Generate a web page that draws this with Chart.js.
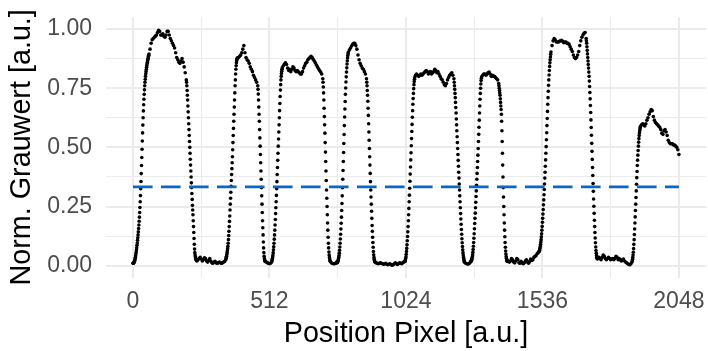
<!DOCTYPE html>
<html>
<head>
<meta charset="utf-8">
<script src="https://cdn.jsdelivr.net/npm/chart.js@4.4.1/dist/chart.umd.min.js"></script>
<style>
  html, body { margin: 0; padding: 0; background: #fff; }
</style>
</head>
<body>
<canvas id="grauwertChart" width="708" height="351"></canvas>
<script>
// Achsen
const xTicks = [0, 512, 1024, 1536, 2048];
const yTicks = [0, 0.25, 0.5, 0.75, 1];
const schwelle = 0.333;

// Grauwert-Profil: [Startpixel, Schrittweite, Werte]
// (Flanken pixelweise, Plateaus jedes 4. Pixel)
const profilRuns = [
  [0, 1, [0.010,0.010,0.011,0.012,0.014,0.017,0.020,0.024,0.029,0.035,
          0.042,0.050,0.058,0.067,0.076,0.086,0.096,0.107,0.118,0.130,
          0.143,0.157,0.172,0.188,0.205,0.225,0.246,0.270,0.296,0.325,
          0.356,0.389,0.423,0.457,0.492,0.527,0.561,0.594,0.625,0.654,
          0.680,0.703,0.724,0.743,0.760,0.775,0.788,0.800,0.811,0.821,
          0.830,0.838,0.846,0.853,0.860,0.866,0.872,0.878,0.884,0.889,0.894]],
  [64, 4, [0.915,0.94,0.955,0.96,0.965,0.97,0.975,0.985,0.995,0.99,0.975,0.975,0.98,0.97,0.965,0.975,
           0.99,0.99,0.975,0.96,0.95,0.94,0.93,0.92,0.9,0.88,0.87,0.86,0.855,0.865,0.875,0.86,0.84,0.815,0.785]],
  [201, 1, [0.775,0.76,0.74,0.72,0.70,0.675,0.65,0.625,0.60,0.575,
            0.55,0.525,0.50,0.475,0.45,0.425,0.40,0.375,0.35,0.33,
            0.305,0.28,0.255,0.235,0.215,0.19,0.165,0.14,0.115,0.09,
            0.07,0.055,0.045,0.038,0.032,0.028,0.025,0.023,0.022,0.02]],
  [244, 4, [0.025,0.03,0.035,0.028,0.02,0.025,0.033,0.03,0.02,0.015,0.022,0.03,0.02,0.012,
            0.01,0.015,0.018,0.012,0.01,0.012,0.015,0.012,0.01,0.012,0.015,0.018,0.025]],
  [349, 1, [0.03,0.035,0.04,0.047,0.055,0.063,0.072,0.082,0.095,0.11,
            0.127,0.145,0.165,0.187,0.21,0.235,0.26,0.285,0.31,0.335,
            0.36,0.385,0.41,0.435,0.46,0.49,0.52,0.55,0.58,0.61,
            0.64,0.67,0.70,0.73,0.76,0.785,0.81,0.83,0.845,0.857,
            0.866,0.872,0.876,0.878]],
  [396, 4, [0.88,0.885,0.89,0.90,0.915,0.93,0.90,0.88,0.87,0.865,0.855,0.84,0.83,0.82,0.805,0.795,0.785,0.775,0.76]],
  [469, 1, [0.745,0.725,0.70,0.67,0.64,0.61,0.575,0.54,0.505,0.47,
            0.435,0.40,0.365,0.33,0.295,0.26,0.225,0.19,0.16,0.13,
            0.10,0.075,0.055,0.04,0.03,0.024,0.02]],
  [496, 4, [0.018,0.015,0.012,0.01,0.008,0.01,0.015]],
  [521, 1, [0.02,0.025,0.03,0.037,0.045,0.055,0.067,0.08,0.095,0.112,
            0.13,0.15,0.172,0.195,0.22,0.245,0.27,0.297,0.325,0.355,
            0.385,0.415,0.445,0.475,0.505,0.535,0.565,0.595,0.625,0.655,
            0.685,0.715,0.742,0.765,0.785,0.80,0.812,0.822,0.83,0.836]],
  [564, 4, [0.845,0.852,0.857,0.85,0.835,0.825,0.83,0.82,0.83,0.84,
            0.835,0.825,0.82,0.825,0.82,0.815,0.81,0.81,0.82,0.835,
            0.845,0.855,0.86,0.87,0.875,0.88,0.885,0.88,0.872,0.865,
            0.857,0.848,0.84,0.832,0.825,0.818,0.81,0.79]],
  [713, 1, [0.775,0.755,0.73,0.70,0.665,0.63,0.595,0.56,0.52,0.48,
            0.44,0.40,0.36,0.32,0.285,0.25,0.215,0.18,0.15,0.12,
            0.095,0.075,0.058,0.045,0.035,0.028,0.022,0.018]],
  [744, 4, [0.012,0.01,0.008,0.008,0.01,0.015]],
  [765, 1, [0.012,0.013,0.015,0.017,0.02,0.024,0.029,0.035,0.043,0.053,
            0.065,0.079,0.095,0.113,0.133,0.155,0.179,0.205,0.233,0.263,
            0.295,0.329,0.365,0.402,0.44,0.478,0.516,0.554,0.592,0.628,
            0.662,0.694,0.724,0.751,0.776,0.798,0.818,0.836,0.852,0.866,
            0.878,0.888,0.896,0.903]],
  [812, 4, [0.912,0.92,0.928,0.935,0.94,0.94,0.93,0.915,0.89,0.87,0.855,0.845,0.835,0.83,0.82,0.81,0.79]],
  [877, 1, [0.775,0.76,0.74,0.72,0.695,0.665,0.635,0.60,0.565,0.53,
            0.495,0.46,0.425,0.39,0.355,0.32,0.29,0.26,0.23,0.20,
            0.17,0.145,0.12,0.098,0.078,0.06,0.046,0.035,0.027,0.021,
            0.017,0.015]],
  [912, 4, [0.012,0.01,0.008,0.01,0.012,0.01,0.008,0.006,0.008,0.01,0.006,0.004,0.006,0.008,
            0.004,0.002,0.004,0.008,0.012,0.008,0.005,0.008,0.012,0.01,0.008,0.012,0.015,0.018]],
  [1021, 1, [0.02,0.024,0.03,0.038,0.048,0.06,0.073,0.088,0.105,0.123,
             0.143,0.165,0.19,0.215,0.242,0.27,0.298,0.327,0.357,0.387,
             0.417,0.447,0.477,0.507,0.537,0.567,0.597,0.627,0.655,0.682,
             0.706,0.728,0.748,0.765,0.778,0.788,0.795]],
  [1060, 4, [0.805,0.81,0.805,0.80,0.805,0.81,0.805,0.81,0.815,0.82,
             0.825,0.82,0.81,0.815,0.82,0.81,0.815,0.82,0.83,0.825,
             0.815,0.82,0.81,0.80,0.79,0.785,0.775,0.765,0.76,0.77,
             0.785,0.795,0.805,0.81,0.815,0.805,0.79]],
  [1205, 1, [0.775,0.76,0.745,0.728,0.71,0.69,0.668,0.645,0.62,0.595,
             0.57,0.545,0.52,0.495,0.47,0.445,0.42,0.395,0.37,0.345,
             0.32,0.295,0.27,0.245,0.22,0.197,0.175,0.153,0.133,0.114,
             0.097,0.081,0.067,0.055,0.045,0.036,0.029,0.023,0.018,0.014]],
  [1248, 4, [0.01,0.008,0.007,0.008,0.012,0.018]],
  [1269, 1, [0.02,0.023,0.027,0.032,0.038,0.046,0.056,0.068,0.082,0.098,
             0.116,0.135,0.156,0.178,0.20,0.222,0.245,0.268,0.292,0.316,
             0.34,0.365,0.39,0.415,0.44,0.467,0.495,0.525,0.555,0.585,
             0.615,0.645,0.675,0.703,0.728,0.75,0.768,0.782,0.792,0.798]],
  [1312, 4, [0.805,0.81,0.81,0.805,0.81,0.815,0.818,0.81,0.80,0.805,0.80,0.80,0.795,0.79,0.785,0.77]],
  [1373, 1, [0.76,0.75,0.74,0.73,0.72,0.705,0.69,0.675,0.66,0.64,
             0.61,0.57,0.525,0.475,0.425,0.375,0.33,0.29,0.25,0.215,
             0.18,0.15,0.122,0.098,0.078,0.062,0.049,0.039,0.031,0.025,
             0.021,0.018]],
  [1408, 4, [0.02,0.015,0.02,0.03,0.025,0.015,0.012,0.02,0.03,0.025,
             0.012,0.01,0.018,0.012,0.008,0.012,0.02,0.025,0.015,0.01,
             0.018,0.028,0.022,0.025,0.035,0.04,0.042,0.05,0.055,0.06]],
  [1525, 1, [0.065,0.07,0.076,0.083,0.091,0.10,0.11,0.122,0.135,0.15,
             0.166,0.183,0.20,0.218,0.237,0.257,0.278,0.30,0.322,0.345,
             0.37,0.395,0.42,0.447,0.475,0.503,0.532,0.562,0.592,0.622,
             0.652,0.682,0.71,0.737,0.762,0.785,0.806,0.825,0.842,0.857,
             0.87,0.882,0.893,0.903]],
  [1572, 4, [0.93,0.95,0.96,0.955,0.945,0.945,0.945,0.948,0.95,0.952,
             0.948,0.942,0.945,0.945,0.94,0.94,0.935,0.925,0.915,0.905,
             0.89,0.88,0.875,0.88,0.89,0.905,0.93,0.95,0.965,0.975,
             0.982,0.985,0.96]],
  [1701, 1, [0.95,0.94,0.925,0.91,0.895,0.88,0.865,0.85,0.835,0.818,
             0.80,0.78,0.757,0.732,0.705,0.677,0.647,0.616,0.584,0.551,
             0.517,0.483,0.449,0.415,0.381,0.347,0.314,0.282,0.251,0.221,
             0.192,0.165,0.14,0.117,0.097,0.079,0.064,0.052,0.043,0.036,
             0.031,0.028]],
  [1744, 4, [0.03,0.035,0.03,0.025,0.035,0.045,0.04,0.03,0.025,0.03,
             0.035,0.03,0.025,0.028,0.03,0.025,0.03,0.04,0.035,0.025,
             0.03,0.025,0.02,0.025,0.028,0.02,0.015,0.012,0.008,0.005,
             0.004,0.008,0.015]],
  [1873, 1, [0.02,0.027,0.035,0.045,0.057,0.072,0.09,0.11,0.132,0.155,
             0.18,0.206,0.233,0.26,0.288,0.316,0.344,0.372,0.398,0.423,
             0.446,0.467,0.487,0.505,0.522,0.537,0.55,0.561,0.57,0.578,
             0.584,0.589]],
  [1908, 4, [0.595,0.60,0.595,0.59,0.60,0.615,0.625,0.64,0.65,0.66,
             0.655,0.63,0.615,0.605,0.6,0.595,0.59,0.585,0.575,0.56,
             0.555,0.57,0.575,0.565,0.55,0.53,0.52,0.515,0.515,0.515,
             0.51,0.51,0.505,0.50,0.49,0.47]]
];

const profilPunkte = [];
profilRuns.forEach(([start, step, werte]) => {
  werte.forEach((v, i) => profilPunkte.push({ x: start + i * step, y: v }));
});

// Haupt- und Nebengitter (Nebengitter mittig zwischen den Ticks)
function mitZwischen(ticks) {
  const out = [];
  ticks.forEach((t, i) => {
    out.push(t);
    if (i < ticks.length - 1) out.push((t + ticks[i + 1]) / 2);
  });
  return out;
}
const xGrid = mitZwischen(xTicks);
const yGrid = mitZwischen(yTicks);

const schrift = 'Liberation Sans, Arial, Helvetica, sans-serif';

const ctx = document.getElementById('grauwertChart').getContext('2d');
const grauwertChart = new Chart(ctx, {
  type: 'scatter',
  data: {
    datasets: [
      {
        type: 'line',
        data: [{ x: xTicks[0], y: schwelle }, { x: xTicks[xTicks.length - 1], y: schwelle }],
        borderColor: '#0A67C6',
        borderWidth: 2.8,
        borderDash: [19.6, 8.4],
        pointRadius: 0,
        fill: false,
        order: 0
      },
      {
        data: profilPunkte,
        backgroundColor: '#000',
        borderWidth: 0,
        pointRadius: 1.8,
        pointHoverRadius: 1.8,
        order: 1
      }
    ]
  },
  options: {
    responsive: false,
    devicePixelRatio: 1,
    animation: false,
    events: [],
    layout: {
      padding: { left: 0, right: 0.65, top: 17.2, bottom: 0 }
    },
    plugins: {
      legend: { display: false },
      tooltip: { enabled: false }
    },
    scales: {
      x: {
        type: 'linear',
        min: -102.4,
        max: 2150.4,
        afterBuildTicks: (scale) => { scale.ticks = xGrid.map(v => ({ value: v })); },
        afterFit: (scale) => {
          scale.height = 73.5;
          scale.paddingLeft = 0;
          scale.paddingRight = 0;
        },
        border: { display: false },
        grid: {
          color: '#EBEBEB',
          lineWidth: (c) => (c.tick && xTicks.includes(c.tick.value) ? 2 : 1),
          drawTicks: false
        },
        ticks: {
          autoSkip: false,
          maxRotation: 0,
          padding: 10,
          color: '#4D4D4D',
          font: { family: schrift, size: 23, lineHeight: 1.2 },
          callback: (v) => (xTicks.includes(v) ? String(v) : '')
        },
        title: {
          display: true,
          text: 'Position Pixel [a.u.]',
          color: '#000',
          font: { family: schrift, size: 28.75, lineHeight: 1.2 },
          padding: { top: 0, bottom: 0 }
        }
      },
      y: {
        type: 'linear',
        min: -0.05,
        max: 1.05,
        afterBuildTicks: (scale) => { scale.ticks = yGrid.map(v => ({ value: v })); },
        afterFit: (scale) => {
          scale.width = 105.7;
          scale.paddingTop = 0;
          scale.paddingBottom = 0;
        },
        border: { display: false },
        grid: {
          color: '#EBEBEB',
          lineWidth: (c) => (c.tick && yTicks.includes(c.tick.value) ? 2 : 1),
          drawTicks: false
        },
        ticks: {
          padding: 13.7,
          color: '#4D4D4D',
          font: { family: schrift, size: 23, lineHeight: 1.2 },
          callback: (v) => (yTicks.includes(v) ? v.toFixed(2) : '')
        },
        title: {
          display: true,
          text: 'Norm. Grauwert [a.u.]',
          color: '#000',
          font: { family: schrift, size: 28.75, lineHeight: 1.2 },
          padding: { top: 5, bottom: 0 }
        }
      }
    }
  }
});
</script>
</body>
</html>
